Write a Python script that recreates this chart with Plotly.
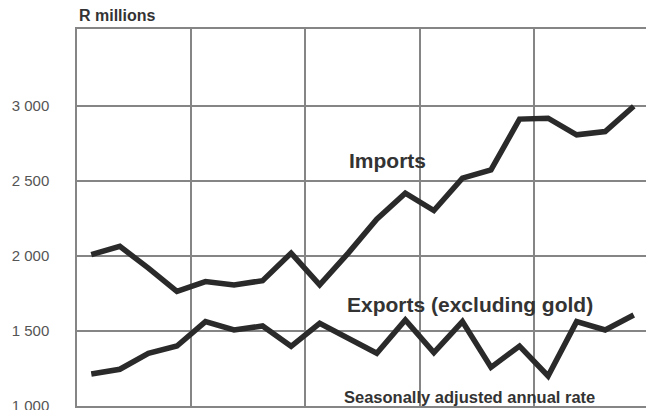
import plotly.graph_objects as go

# 20 consecutive quarters (5 years x 4 quarters)
quarters = list(range(20))

imports = [2010, 2065, 1920, 1765, 1830, 1808, 1836, 2020, 1808, 2020,
           2246, 2420, 2304, 2520, 2575, 2914, 2920, 2809, 2831, 3000]
exports = [1214, 1245, 1352, 1400, 1563, 1507, 1534, 1398, 1552, 1452,
           1352, 1574, 1356, 1563, 1258, 1400, 1200, 1563, 1507, 1607]

y_tickvals = [1000, 1500, 2000, 2500, 3000]
y_ticktext = ["1 000", "1 500", "2 000", "2 500", "3 000"]
year_bounds = [-0.5, 3.5, 7.5, 11.5, 15.5, 19.5]

line_color = "#2a2a2a"
grid_color = "#858585"
text_color = "#333333"

fig = go.Figure()
fig.add_trace(go.Scatter(x=quarters, y=imports, mode="lines",
                         line=dict(color=line_color, width=5.5), name="Imports"))
fig.add_trace(go.Scatter(x=quarters, y=exports, mode="lines",
                         line=dict(color=line_color, width=5.5), name="Exports"))

font_b = "Liberation Sans, Arial, sans-serif"

fig.add_annotation(text="<b>R millions</b>", xref="paper", yref="paper",
                   x=0.0, y=1.0, yshift=14, xanchor="left", yanchor="middle",
                   showarrow=False, font=dict(family=font_b, size=16, color=text_color))
fig.add_annotation(text="<b>Imports</b>", x=8.95, y=2640, xanchor="left", yanchor="middle",
                   showarrow=False, font=dict(family=font_b, size=21, color=text_color))
fig.add_annotation(text="<b>Exports (excluding gold)</b>", x=8.88, y=1675, xanchor="left",
                   yanchor="middle", showarrow=False,
                   font=dict(family=font_b, size=21, color=text_color))
fig.add_annotation(text="<b>Seasonally adjusted annual rate</b>", x=8.77, y=1060,
                   xanchor="left", yanchor="middle", showarrow=False,
                   font=dict(family=font_b, size=16.5, color=text_color))

fig.update_layout(
    width=646, height=402,
    margin=dict(l=69, r=6, t=21, b=4, autoexpand=False),
    paper_bgcolor="white", plot_bgcolor="white",
    showlegend=False,
    xaxis=dict(range=[-0.5, 19.5], tickvals=year_bounds, showticklabels=False,
               automargin=False,
               showgrid=True, gridcolor=grid_color, gridwidth=1.5, zeroline=False,
               showline=True, linecolor=grid_color, linewidth=1.5, mirror=True, ticks=""),
    yaxis=dict(range=[1000, 3515], tickvals=y_tickvals, ticktext=y_ticktext,
               automargin=False,
               showgrid=True, gridcolor=grid_color, gridwidth=1.5, zeroline=False,
               showline=True, linecolor=grid_color, linewidth=1.5, mirror=True, ticks="",
               ticklabelstandoff=23, ticklabeloverflow="allow",
               tickfont=dict(family="Liberation Sans Narrow, Arial Narrow, sans-serif",
                             size=15, color="#555555")),
)

fig.write_html("out.html")
